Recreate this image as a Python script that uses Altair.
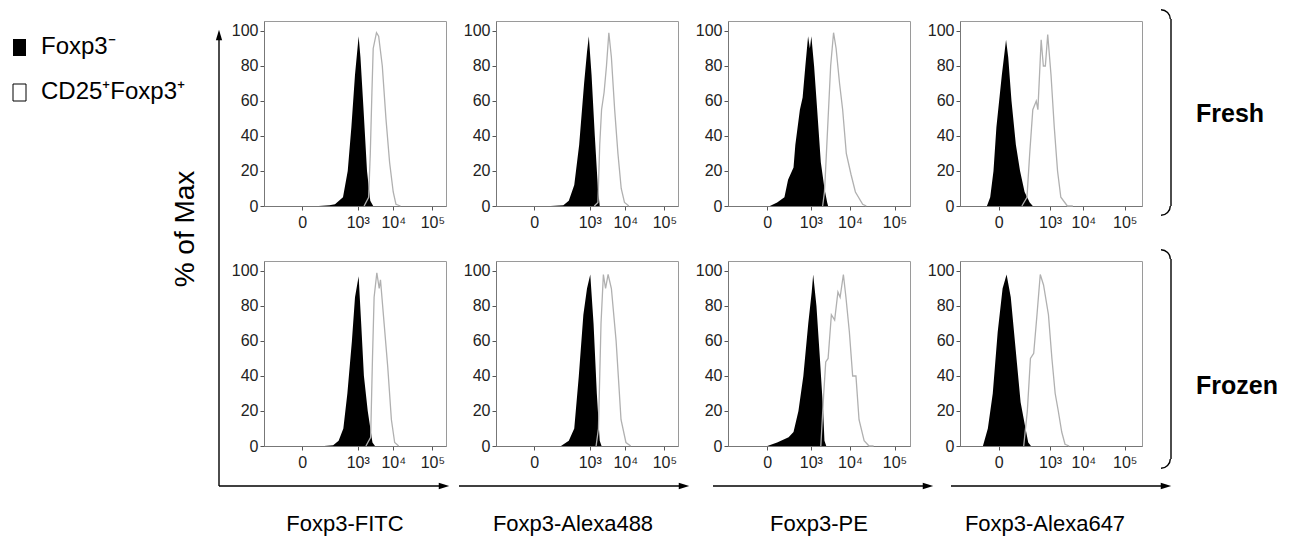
import altair as alt
import pandas as pd

FONT = "Liberation Sans"

columns = ["Foxp3-FITC", "Foxp3-Alexa488", "Foxp3-PE", "Foxp3-Alexa647"]
conditions = ["Fresh", "Frozen"]
tick_labels = ["0", "10³", "10⁴", "10⁵"]
tick_pos = {
    "Foxp3-FITC": [0.21, 0.515, 0.71, 0.925],
    "Foxp3-Alexa488": [0.21, 0.515, 0.71, 0.925],
    "Foxp3-PE": [0.215, 0.455, 0.67, 0.915],
    "Foxp3-Alexa647": [0.213, 0.495, 0.678, 0.905],
}
y_ticks = [0, 20, 40, 60, 80, 100]
legend_labels = ["Foxp3⁻", "CD25⁺Foxp3⁺"]

# ---- histograms (x = fraction of the display axis, y = % of max) ----
fitc_fresh_neg_x = [0.30, 0.36, 0.39, 0.434, 0.46, 0.48, 0.50, 0.52, 0.53, 0.547, 0.566, 0.584, 0.60]
fitc_fresh_neg_y = [0, 0.5, 1, 5, 20, 45, 75, 97, 85, 55, 20, 3, 0]
fitc_fresh_pos_x = [0.55, 0.575, 0.584, 0.593, 0.60, 0.618, 0.63, 0.65, 0.67, 0.69, 0.71, 0.725, 0.75]
fitc_fresh_pos_y = [0, 5, 30, 65, 90, 99, 97, 80, 50, 25, 8, 1, 0]

a488_fresh_neg_x = [0.30, 0.37, 0.40, 0.43, 0.457, 0.484, 0.50, 0.51, 0.525, 0.543, 0.56, 0.57]
a488_fresh_neg_y = [0, 0.5, 3, 12, 35, 70, 88, 97, 75, 40, 10, 0]
a488_fresh_pos_x = [0.54, 0.56, 0.57, 0.58, 0.594, 0.607, 0.62, 0.634, 0.652, 0.67, 0.688, 0.706, 0.73]
a488_fresh_pos_y = [0, 2, 35, 55, 65, 80, 99, 85, 55, 30, 10, 2, 0]

pe_fresh_neg_x = [0.20, 0.23, 0.27, 0.31, 0.33, 0.36, 0.37, 0.395, 0.41, 0.425, 0.44, 0.45, 0.458, 0.473, 0.49, 0.51, 0.53, 0.545, 0.55]
pe_fresh_neg_y = [0, 0, 2, 5, 15, 22, 35, 55, 62, 80, 97, 90, 97, 80, 55, 25, 10, 2, 0]
pe_fresh_pos_x = [0.52, 0.53, 0.536, 0.55, 0.564, 0.58, 0.594, 0.613, 0.63, 0.65, 0.676, 0.70, 0.74, 0.76]
pe_fresh_pos_y = [0, 8, 20, 50, 80, 99, 90, 70, 55, 30, 18, 8, 1, 0]

a647_fresh_neg_x = [0.12, 0.148, 0.166, 0.184, 0.20, 0.23, 0.253, 0.265, 0.283, 0.307, 0.33, 0.355, 0.383, 0.40]
a647_fresh_neg_y = [0, 0, 5, 20, 45, 75, 95, 85, 60, 35, 20, 8, 2, 0]
a647_fresh_pos_x = [0.34, 0.368, 0.383, 0.40, 0.419, 0.428, 0.446, 0.458, 0.469, 0.482, 0.50, 0.518, 0.536, 0.554, 0.59, 0.62]
a647_fresh_pos_y = [0, 5, 30, 55, 60, 55, 95, 80, 80, 98, 75, 45, 20, 5, 0, 0]

fitc_frozen_neg_x = [0.33, 0.38, 0.41, 0.436, 0.458, 0.483, 0.50, 0.52, 0.534, 0.549, 0.57, 0.596, 0.61]
fitc_frozen_neg_y = [0, 0.5, 3, 10, 30, 60, 85, 97, 70, 40, 20, 2, 0]
fitc_frozen_pos_x = [0.56, 0.586, 0.596, 0.605, 0.62, 0.633, 0.64, 0.66, 0.68, 0.70, 0.718, 0.74]
fitc_frozen_pos_y = [0, 5, 50, 85, 99, 90, 95, 70, 45, 15, 2, 0]

a488_frozen_neg_x = [0.30, 0.357, 0.40, 0.43, 0.455, 0.48, 0.50, 0.518, 0.536, 0.554, 0.57, 0.58]
a488_frozen_neg_y = [0, 0, 3, 10, 40, 75, 90, 98, 70, 30, 3, 0]
a488_frozen_pos_x = [0.55, 0.563, 0.577, 0.59, 0.602, 0.616, 0.634, 0.66, 0.687, 0.714, 0.74]
a488_frozen_pos_y = [0, 10, 70, 98, 90, 98, 90, 60, 15, 2, 0]

pe_frozen_neg_x = [0.18, 0.216, 0.27, 0.333, 0.36, 0.387, 0.414, 0.441, 0.46, 0.468, 0.486, 0.505, 0.523, 0.53, 0.54]
pe_frozen_neg_y = [0, 0, 2, 5, 8, 20, 40, 70, 88, 98, 80, 50, 20, 3, 0]
pe_frozen_pos_x = [0.51, 0.526, 0.537, 0.55, 0.568, 0.586, 0.604, 0.616, 0.634, 0.648, 0.667, 0.685, 0.703, 0.72, 0.748, 0.775, 0.80]
pe_frozen_pos_y = [0, 30, 48, 50, 75, 72, 88, 85, 98, 85, 65, 40, 40, 15, 3, 0, 0]

a647_frozen_neg_x = [0.10, 0.126, 0.153, 0.18, 0.207, 0.234, 0.256, 0.279, 0.306, 0.333, 0.36, 0.375, 0.39]
a647_frozen_neg_y = [0, 0, 10, 30, 65, 90, 98, 85, 55, 25, 10, 2, 0]
a647_frozen_pos_x = [0.35, 0.37, 0.387, 0.405, 0.423, 0.441, 0.459, 0.486, 0.505, 0.523, 0.54, 0.559, 0.577, 0.60]
a647_frozen_pos_y = [0, 20, 50, 53, 75, 98, 92, 75, 50, 30, 20, 8, 1, 0]

series = {
    ("Foxp3-FITC", "Fresh"): (fitc_fresh_neg_x, fitc_fresh_neg_y, fitc_fresh_pos_x, fitc_fresh_pos_y),
    ("Foxp3-Alexa488", "Fresh"): (a488_fresh_neg_x, a488_fresh_neg_y, a488_fresh_pos_x, a488_fresh_pos_y),
    ("Foxp3-PE", "Fresh"): (pe_fresh_neg_x, pe_fresh_neg_y, pe_fresh_pos_x, pe_fresh_pos_y),
    ("Foxp3-Alexa647", "Fresh"): (a647_fresh_neg_x, a647_fresh_neg_y, a647_fresh_pos_x, a647_fresh_pos_y),
    ("Foxp3-FITC", "Frozen"): (fitc_frozen_neg_x, fitc_frozen_neg_y, fitc_frozen_pos_x, fitc_frozen_pos_y),
    ("Foxp3-Alexa488", "Frozen"): (a488_frozen_neg_x, a488_frozen_neg_y, a488_frozen_pos_x, a488_frozen_pos_y),
    ("Foxp3-PE", "Frozen"): (pe_frozen_neg_x, pe_frozen_neg_y, pe_frozen_pos_x, pe_frozen_pos_y),
    ("Foxp3-Alexa647", "Frozen"): (a647_frozen_neg_x, a647_frozen_neg_y, a647_frozen_pos_x, a647_frozen_pos_y),
}

PW, PH = 182, 185
one = pd.DataFrame({"k": [1]})

# decoration offsets (pixels relative to each panel's plot origin)
arrow_span = [(-45, 185), (-37, 193), (-15, 205), (-9, 211)]
title_cx = [81, 77, 91, 85]
ARROW_RIGHT = "M1,0L-1,-0.6L-1,0.6Z"
ARROW_UP = "M0,-1L-0.6,1L0.6,1Z"


def rule(x, y, x2=None, y2=None, w=1.4, color="black"):
    enc = dict(x=alt.value(x), y=alt.value(y))
    if x2 is not None:
        enc["x2"] = alt.value(x2)
    if y2 is not None:
        enc["y2"] = alt.value(y2)
    return alt.Chart(one).mark_rule(color=color, strokeWidth=w).encode(**enc)


def text(t, x, y, size, align="left", weight="normal", angle=0):
    return alt.Chart(one).mark_text(
        text=t, fontSize=size, font=FONT, align=align, baseline="middle",
        fontWeight=weight, angle=angle, color="black"
    ).encode(x=alt.value(x), y=alt.value(y))


def head(x, y, shape):
    return alt.Chart(one).mark_point(
        shape=shape, filled=True, size=110, color="black", opacity=1
    ).encode(x=alt.value(x), y=alt.value(y))


def arc(cx, cy, t0, t1):
    return alt.Chart(one).mark_arc(
        radius=10, radius2=8.6, theta=t0, theta2=t1, color="black"
    ).encode(x=alt.value(cx), y=alt.value(cy))


def bracket(x, top, bottom):
    return [
        rule(x, top + 10, y2=bottom - 10, w=1.4),
        arc(x - 10, top + 10, 0, 1.5708),
        arc(x - 10, bottom - 10, 1.5708, 3.1416),
    ]


def panel(ci, col, ri, cond):
    nx, ny, px, py = series[(col, cond)]
    dneg = pd.DataFrame({"x": nx, "y": ny})
    dpos = pd.DataFrame({"x": px, "y": py, "i": list(range(len(px)))})
    vals = tick_pos[col]
    expr = "[" + ",".join(f"'{t}'" for t in tick_labels) + "][indexof([" + ",".join(str(v) for v in vals) + "], datum.value)]"
    xenc = alt.X("x:Q", scale=alt.Scale(domain=[0, 1], nice=False, zero=False),
                 axis=alt.Axis(values=vals, labelExpr=expr, title=None, grid=False,
                               labelPadding=4, labelFlush=False))
    yenc = alt.Y("y:Q", scale=alt.Scale(domain=[0, 105.7], nice=False),
                 axis=alt.Axis(values=y_ticks, title=None, grid=False, labelPadding=2))
    neg = alt.Chart(dneg).mark_area(color="black", interpolate="linear").encode(x=xenc, y=yenc)
    pos = alt.Chart(dpos).mark_line(color="#b0b0b0", strokeWidth=1.3).encode(x=xenc, y=yenc, order="i:Q")
    layers = [neg, pos]

    if ri == 0 and ci == 0:
        # legend
        layers.append(alt.Chart(one).mark_rect(color="black").encode(
            x=alt.value(12 - 263), x2=alt.value(25 - 263), y=alt.value(38 - 20), y2=alt.value(55 - 20)))
        layers.append(alt.Chart(one).mark_rect(fill="white", stroke="black", strokeWidth=1).encode(
            x=alt.value(12 - 263), x2=alt.value(25 - 263), y=alt.value(83 - 20), y2=alt.value(100 - 20)))
        layers.append(text(legend_labels[0], 40 - 263, 46 - 20, 24))
        layers.append(text(legend_labels[1], 40 - 263, 91 - 20, 24))
        # y arrow
        layers.append(rule(-45, 16, y2=465, w=1.4))
        layers.append(head(-45, 14, ARROW_UP))
        layers.append(text("% of Max", -78, 208, 28, align="center", angle=270))
    if ri == 1:
        x0, x1 = arrow_span[ci]
        layers.append(rule(x0, 225, x2=x1 - 8, w=1.4))
        layers.append(head(x1 - 5, 225, ARROW_RIGHT))
        layers.append(text(col, title_cx[ci], 263, 22, align="center"))
    if ci == 3:
        if ri == 0:
            layers += bracket(211, -12, 195)
            layers.append(text("Fresh", 236, 93, 25, weight="bold"))
        else:
            layers += bracket(211, -12, 208)
            layers.append(text("Frozen", 236, 125, 25, weight="bold"))

    return alt.layer(*layers).properties(width=PW, height=PH)


panels = [panel(ci, col, ri, cond)
          for ri, cond in enumerate(conditions)
          for ci, col in enumerate(columns)]

chart = alt.ConcatChart(
    concat=panels,
    columns=4,
    spacing=alt.RowColnumber(row=55, column=50),
    bounds="flush",
    padding={"left": 4, "top": 0, "right": 6, "bottom": 0},
    background="white",
).configure_view(
    stroke="#9a9a9a", strokeWidth=1
).configure_axis(
    labelFont=FONT, labelFontSize=16, labelColor="#222",
    tickColor="#555", tickSize=4, domainColor="#777"
)

chart.save("out.html", embed_options={"renderer": "svg", "actions": False})
